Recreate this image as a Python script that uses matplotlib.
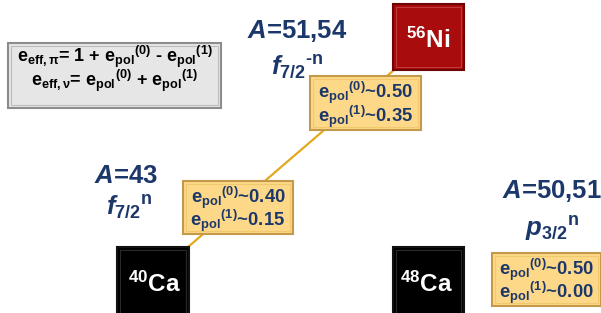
import matplotlib.pyplot as plt
from matplotlib.patches import Rectangle

plt.rcParams['font.family'] = 'Liberation Sans'
plt.rcParams['mathtext.fontset'] = 'custom'
plt.rcParams['mathtext.rm'] = 'Liberation Sans:bold'
plt.rcParams['mathtext.bf'] = 'Liberation Sans:bold'
plt.rcParams['mathtext.it'] = 'Liberation Sans:italic:bold'
plt.rcParams['mathtext.default'] = 'bf'

# content
nuclei = ['$^{56}$Ni', '$^{40}$Ca', '$^{48}$Ca']
mass_labels = ['51,54', '43', '50,51']
orbitals = [r'$\mathit{f}_{\mathit{7/2}}{}^{‐n}$', r'$\mathit{f}_{\mathit{7/2}}{}^{n}$',
            r'$\mathit{p}_{\mathit{3/2}}{}^{n}$']
epol0 = [0.50, 0.40, 0.50]
epol1 = [0.35, 0.15, 0.00]
formula = [r'$e_{eff,\pi}$= 1 + $e_{pol}{}^{(0)}$ - $e_{pol}{}^{(1)}$',
           r'$e_{eff,\nu}$= $e_{pol}{}^{(0)}$ + $e_{pol}{}^{(1)}$']

navy = '#1c3769'

fig = plt.figure(figsize=(6.01, 3.13), dpi=100)
ax = fig.add_axes([0, 0, 1, 1])
ax.set_xlim(0, 601)
ax.set_ylim(313, 0)
ax.axis('off')


def box(x0, y0, x1, y1, face, edge, inner, lw=1.5, z=3):
    ax.add_patch(Rectangle((x0, y0), x1 - x0, y1 - y0, facecolor=face,
                           edgecolor=edge, lw=lw, zorder=z))
    ax.add_patch(Rectangle((x0 + 3, y0 + 3), x1 - x0 - 6, y1 - y0 - 6,
                           facecolor='none', edgecolor=inner, lw=0.8, zorder=z + 0.1))


# connecting line 40Ca -> 56Ni
ax.plot([188, 394], [247, 70], color='#e3a81e', lw=1.6, zorder=1)

# formula box
box(8, 43, 221, 108, '#e6e6e6', '#8c8c8c', '#bdbdbd')
ax.text(115, 86, '\n'.join(formula), ha='center', va='baseline', fontsize=13,
        fontweight='bold', color='black', linespacing=0.85, ma='center', zorder=5)

# nucleus boxes
nuc_pos = [(393, 4, 464, 70), (117, 247, 189, 320), (393, 247, 464, 320)]
nuc_face = ['#a80c0c', 'black', 'black']
nuc_edge = ['#6e0404', '#111111', '#111111']
nuc_inner = ['#c03a3a', '#2a2a2a', '#2a2a2a']
nuc_tx = [428.5, 154.5, 426]
nuc_ty = [48, 292, 292]
for name, (x0, y0, x1, y1), fc, ec, ic, tx, ty in zip(nuclei, nuc_pos, nuc_face,
                                                      nuc_edge, nuc_inner, nuc_tx, nuc_ty):
    box(x0, y0, x1, y1, fc, ec, ic)
    ax.text(tx, ty, name, ha='center', va='baseline', fontsize=17.5,
            fontweight='bold', color='white', zorder=5)

# polarisation boxes
pol_pos = [(310, 76, 421, 130), (183, 181, 293, 234), (492, 253, 601, 306)]
for e0, e1, (x0, y0, x1, y1) in zip(epol0, epol1, pol_pos):
    box(x0, y0, x1, y1, '#fcd888', '#c49a4a', '#f0c870')
    xc = (x0 + x1) / 2
    lbl = r'$e_{pol}{}^{(0)}$~%.2f' % e0 + '\n' + r'$e_{pol}{}^{(1)}$~%.2f' % e1
    ax.text(xc, y0 + 45.5, lbl, ha='center', va='baseline', fontsize=13.3,
            fontweight='bold', color=navy, linespacing=0.85, zorder=5)

# mass / orbital labels
a_pos = [(297, 38), (126, 183), (552, 198)]
o_pos = [(297, 75), (129, 215), (552, 236)]
for m, orb, (ax_, ay), (ox, oy) in zip(mass_labels, orbitals, a_pos, o_pos):
    ax.text(ax_, ay, r'$\mathit{A}$=' + m, ha='center', va='baseline',
            fontsize=18.5, fontweight='bold', color=navy, zorder=5)
    ax.text(ox, oy, orb, ha='center', va='baseline', fontsize=18.5,
            fontweight='bold', color=navy, zorder=5)

fig.savefig('out.png', dpi=100)
